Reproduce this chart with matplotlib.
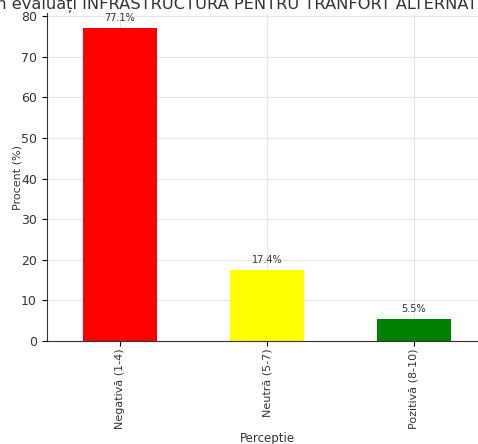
import matplotlib
matplotlib.use("Agg")
import matplotlib.pyplot as plt

categories = ["Negativă (1-4)", "Neutră (5-7)", "Pozitivă (8-10)"]
values = [77.1, 17.4, 5.5]
colors = ["red", "yellow", "green"]
title = "Cum evaluați INFRASTRUCTURA PENTRU TRANFORT ALTERNATIV"

fig = plt.figure(figsize=(4.78, 4.44), dpi=100)
W, H = 478, 444
ax = fig.add_axes([46.5 / W, (H - 341) / H, 441 / W, (341 - 13) / H])
x = range(len(categories))
ax.bar(x, values, width=0.5, color=colors, zorder=2)
ax.set_xlim(-0.5, 2.5)
ax.set_ylim(0, 80.8)
ax.set_xticks(list(x))
ax.set_xticklabels(categories, rotation=90, fontsize=8, color="#333333")
ax.set_yticks(range(0, 81, 10))
ax.tick_params(axis="y", labelsize=9, labelcolor="#333333")
ax.tick_params(axis="x", pad=2)
ax.grid(True, color="#e6e6e6", linewidth=0.8, zorder=0)
ax.set_axisbelow(True)
for s in ["top", "right"]:
    ax.spines[s].set_visible(False)
for s in ["left", "bottom"]:
    ax.spines[s].set_color("#333333")
ax.set_xlabel("Perceptie", fontsize=8.5, color="#333333", labelpad=2)
ax.set_ylabel("Procent (%)", fontsize=8, color="#333333", labelpad=-1)
fig.text(-31 / W, 1 - 9 / H, title, ha="left", va="baseline", fontsize=11.7, color="#333333")
for i, v in enumerate(values):
    ax.text(i, v + 1.2, f"{v}%", ha="center", va="bottom", fontsize=7, color="#333333")

fig.savefig("out.png", dpi=100)
